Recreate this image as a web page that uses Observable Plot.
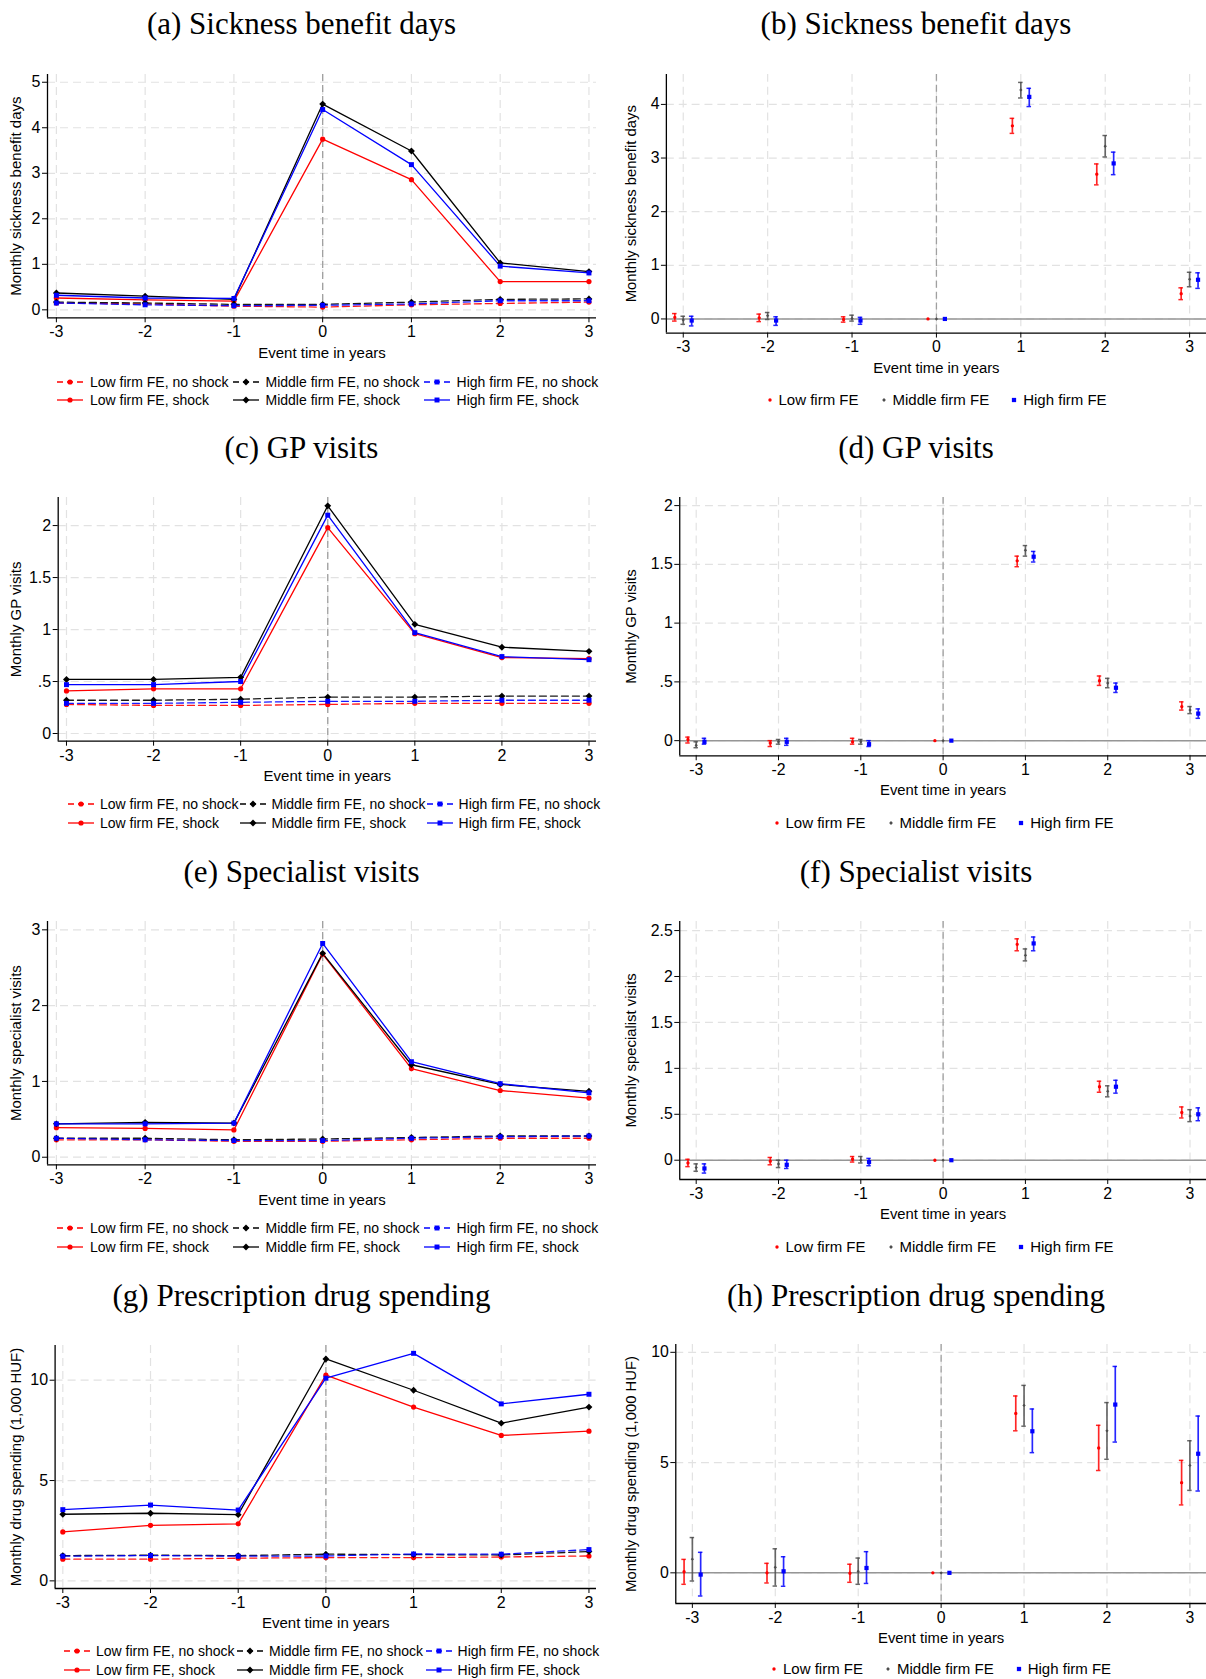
<!DOCTYPE html>
<html>
<head>
<meta charset="utf-8">
<script src="https://cdn.jsdelivr.net/npm/d3@7"></script>
<script src="https://cdn.jsdelivr.net/npm/@observablehq/plot@0.6"></script>
<style>
  html, body { margin: 0; padding: 0; background: #fff; overflow: hidden; }
  #root { position: relative; width: 1206px; height: 1679px; overflow: hidden; background: #fff; }
  .panel { position: absolute; }
  .title { position: absolute; width: 600px; text-align: center; font-family: "Liberation Serif", "Times New Roman", serif; font-size: 31px; line-height: 34px; color: #000; white-space: nowrap; }
  .legend3 { position: absolute; display: grid; grid-template-columns: auto auto auto; grid-auto-rows: 18.5px; font-family: "Liberation Sans", Arial, sans-serif; font-size: 14px; color: #000; white-space: nowrap; }
  .legend3 .item { display: flex; align-items: center; }
  .legend1 { position: absolute; display: flex; align-items: center; gap: 22px; font-family: "Liberation Sans", Arial, sans-serif; font-size: 15px; line-height: 18px; color: #000; white-space: nowrap; }
  .legend1 .item { display: flex; align-items: center; gap: 6px; }
  svg { overflow: visible; }
  #root svg [aria-label="x-axis tick label"], #root svg [aria-label="y-axis tick label"] { font-size: 16px !important; font-family: "Liberation Sans", Arial, sans-serif !important; }
  #root svg [aria-label="x-axis tick label"] text, #root svg [aria-label="y-axis tick label"] text { font-size: 16px !important; }
</style>
</head>
<body>
<div id="root"></div>
<script>
// ---------------- DATA ----------------
const years = [-3, -2, -1, 0, 1, 2, 3];
const groups = ["Low firm FE", "Middle firm FE", "High firm FE"];
const shockLabels = ["no shock", "shock"];

// (a) Sickness benefit days, levels (rows: Low, Middle, High)
const sickShock = [
  [0.26, 0.22, 0.19, 3.75, 2.86, 0.62, 0.62],
  [0.37, 0.30, 0.23, 4.52, 3.49, 1.03, 0.84],
  [0.32, 0.26, 0.25, 4.40, 3.19, 0.96, 0.81]
];
const sickNoShock = [
  [0.15, 0.13, 0.08, 0.06, 0.11, 0.14, 0.17],
  [0.17, 0.15, 0.12, 0.12, 0.17, 0.23, 0.24],
  [0.15, 0.11, 0.09, 0.10, 0.13, 0.20, 0.20]
];
// (b) Sickness benefit days, estimates with CI
const sickCoef = [
  [0.03, 0.02, -0.01, 0, 3.60, 2.70, 0.47],
  [-0.02, 0.06, 0.01, 0, 4.27, 3.22, 0.74],
  [-0.03, -0.03, -0.03, 0, 4.14, 2.90, 0.73]
];
const sickLo = [
  [-0.04, -0.05, -0.06, 0, 3.46, 2.50, 0.36],
  [-0.10, -0.01, -0.04, 0, 4.12, 3.02, 0.60],
  [-0.13, -0.12, -0.10, 0, 3.96, 2.69, 0.57]
];
const sickHi = [
  [0.10, 0.09, 0.04, 0, 3.74, 2.89, 0.58],
  [0.05, 0.12, 0.07, 0, 4.41, 3.42, 0.87],
  [0.05, 0.04, 0.03, 0, 4.30, 3.11, 0.86]
];

// (c) GP visits, levels
const gpShock = [
  [0.41, 0.43, 0.43, 1.98, 0.96, 0.73, 0.72],
  [0.52, 0.52, 0.54, 2.19, 1.05, 0.83, 0.79],
  [0.47, 0.47, 0.50, 2.10, 0.97, 0.74, 0.71]
];
const gpNoShock = [
  [0.28, 0.27, 0.27, 0.28, 0.29, 0.29, 0.29],
  [0.32, 0.32, 0.33, 0.35, 0.35, 0.36, 0.36],
  [0.29, 0.29, 0.30, 0.31, 0.31, 0.32, 0.32]
];
// (d) GP visits, estimates
const gpCoef = [
  [0.01, -0.02, -0.01, 0, 1.53, 0.51, 0.29],
  [-0.04, -0.01, -0.01, 0, 1.62, 0.49, 0.26],
  [-0.01, -0.01, -0.03, 0, 1.565, 0.45, 0.23]
];
const gpLo = [
  [-0.02, -0.05, -0.03, 0, 1.48, 0.47, 0.26],
  [-0.06, -0.03, -0.03, 0, 1.57, 0.45, 0.23],
  [-0.03, -0.04, -0.05, 0, 1.52, 0.41, 0.19]
];
const gpHi = [
  [0.03, 0.00, 0.02, 0, 1.57, 0.55, 0.33],
  [-0.01, 0.01, 0.01, 0, 1.66, 0.53, 0.29],
  [0.02, 0.02, 0.00, 0, 1.61, 0.49, 0.27]
];

// (e) Specialist visits, levels
const specShock = [
  [0.39, 0.38, 0.36, 2.68, 1.17, 0.88, 0.78],
  [0.44, 0.46, 0.45, 2.69, 1.22, 0.96, 0.87],
  [0.44, 0.44, 0.45, 2.82, 1.26, 0.97, 0.85]
];
const specNoShock = [
  [0.23, 0.23, 0.21, 0.21, 0.23, 0.25, 0.25],
  [0.25, 0.25, 0.23, 0.24, 0.26, 0.28, 0.28],
  [0.25, 0.23, 0.22, 0.22, 0.25, 0.27, 0.28]
];
// (f) Specialist visits, estimates
const specCoef = [
  [-0.03, -0.01, 0.01, 0, 2.35, 0.80, 0.52],
  [-0.08, -0.04, 0.00, 0, 2.23, 0.75, 0.48],
  [-0.09, -0.05, -0.02, 0, 2.36, 0.80, 0.50]
];
const specLo = [
  [-0.07, -0.05, -0.02, 0, 2.28, 0.74, 0.46],
  [-0.12, -0.08, -0.03, 0, 2.17, 0.69, 0.42],
  [-0.14, -0.09, -0.06, 0, 2.28, 0.73, 0.43]
];
const specHi = [
  [0.01, 0.03, 0.04, 0, 2.41, 0.86, 0.58],
  [-0.04, 0.00, 0.04, 0, 2.30, 0.81, 0.55],
  [-0.04, 0.00, 0.02, 0, 2.43, 0.87, 0.57]
];

// (g) Prescription drug spending, levels (1,000 HUF)
const drugShock = [
  [2.44, 2.77, 2.84, 10.25, 8.66, 7.25, 7.46],
  [3.32, 3.37, 3.30, 11.06, 9.50, 7.86, 8.66],
  [3.55, 3.78, 3.53, 10.10, 11.34, 8.82, 9.30]
];
const drugNoShock = [
  [1.08, 1.08, 1.13, 1.16, 1.16, 1.19, 1.24],
  [1.26, 1.28, 1.26, 1.33, 1.31, 1.29, 1.46],
  [1.23, 1.26, 1.23, 1.24, 1.34, 1.33, 1.56]
];
// (h) Prescription drug spending, estimates
const drugCoef = [
  [0.05, 0.00, -0.02, 0, 7.23, 5.66, 4.09],
  [0.62, 0.25, 0.07, 0, 7.59, 6.44, 4.87],
  [-0.08, 0.07, 0.22, 0, 6.42, 7.63, 5.40]
];
const drugLo = [
  [-0.52, -0.46, -0.43, 0, 6.44, 4.64, 3.08],
  [-0.37, -0.60, -0.52, 0, 6.65, 5.15, 3.74],
  [-1.05, -0.61, -0.48, 0, 5.45, 5.93, 3.71]
];
const drugHi = [
  [0.61, 0.43, 0.39, 0, 8.02, 6.69, 5.10],
  [1.60, 1.09, 0.67, 0, 8.50, 7.72, 5.99],
  [0.93, 0.73, 0.96, 0, 7.43, 9.36, 7.11]
];

// Tick values
const ticksSick = [0, 1, 2, 3, 4, 5];
const ticksSickCoef = [0, 1, 2, 3, 4];
const ticksGP = [0, 0.5, 1, 1.5, 2];
const ticksSpec = [0, 1, 2, 3];
const ticksSpecCoef = [0, 0.5, 1, 1.5, 2, 2.5];
const ticksDrug = [0, 5, 10];

// ---------------- STYLE / LAYOUT ----------------
const lineColors = ["#ff0000", "#000000", "#0000ff"];
const coefColors = ["#ff0000", "#4d4d4d", "#0000ff"];
const symbolNames = ["circle", "diamond2", "square"];
const d3Symbols = [d3.symbolCircle, d3.symbolDiamond2, d3.symbolSquare];
const lineDotR = [2.6, 3.1, 2.8];
const coefDotR = [1.7, 1.5, 2.4];
const groupOffsets = [-0.1, 0, 0.1];
const capHalf = 0.027;

const root = document.getElementById("root");

function fmtY(d) {
  if (d === 0) return "0";
  const s = String(d);
  return Math.abs(d) < 1 ? s.replace("0.", ".") : s;
}
function fmtX(d) { return String(d); }

const baseStyle = {
  fontFamily: "'Liberation Sans', Arial, sans-serif",
  fontSize: "15px",
  color: "#000",
  background: "transparent",
  overflow: "visible"
};

function gridMarks(p) {
  return [
    Plot.gridX(years, {stroke: "#e2e2e2", strokeOpacity: 1, strokeWidth: 1.2, strokeDasharray: "8,5"}),
    Plot.gridY(p.yTicks, {stroke: "#e2e2e2", strokeOpacity: 1, strokeWidth: 1.2, strokeDasharray: "8,5"})
  ];
}

function axesMarks(p) {
  return [
    Plot.ruleX([p.xDomain[0]], {stroke: "#000", strokeWidth: 1.3}),
    Plot.ruleY([p.yDomain[0]], {stroke: "#000", strokeWidth: 1.3}),
    Plot.axisX(years, {tickSize: 5, tickPadding: 3, tickFormat: fmtX, label: null, fontSize: 16}),
    Plot.axisY(p.yTicks, {tickSize: 5, tickPadding: 2, tickFormat: fmtY, label: null, fontSize: 16}),
    Plot.text(["Event time in years"], {frameAnchor: "bottom", dy: 35, text: d => d, lineAnchor: "middle", fontSize: 15}),
    Plot.text([p.yLabel], {frameAnchor: "left", dx: p.yTitleX - p.plotLeft, text: d => d, rotate: -90, lineAnchor: "middle", textAnchor: "middle", fontSize: 15})
  ];
}

function addTitle(p) {
  const t = document.createElement("div");
  t.className = "title";
  t.textContent = p.title;
  t.style.left = (p.titleX - 300) + "px";
  t.style.top = (p.titleY - 17) + "px";
  root.appendChild(t);
}

function levelPanel(p) {
  const rows = [];
  groups.forEach((g, gi) => years.forEach((t, ti) => {
    rows.push({t, v: p.noShock[gi][ti], g, s: shockLabels[0]});
    rows.push({t, v: p.shock[gi][ti], g, s: shockLabels[1]});
  }));
  const svgLeft = 0, width = 603, mt = 12, mb = 50;
  const height = Math.round(mt + (p.plotBottom - p.plotTop) + mb);
  const chart = Plot.plot({
    width, height,
    marginLeft: p.plotLeft - svgLeft,
    marginRight: width - p.plotRight,
    marginTop: mt,
    marginBottom: height - mt - (p.plotBottom - p.plotTop),
    style: baseStyle,
    x: {domain: p.xDomain},
    y: {domain: p.yDomain},
    color: {domain: groups, range: lineColors},
    symbol: {domain: groups, range: symbolNames},
    marks: [
      ...gridMarks(p),
      Plot.ruleX([0], {stroke: "#a0a0a0", strokeWidth: 1.3, strokeDasharray: "7,4"}),
      Plot.line(rows.filter(d => d.s === shockLabels[0]), {x: "t", y: "v", z: "g", stroke: "g", strokeWidth: 1.3, strokeDasharray: "7,4", strokeOpacity: 0.9}),
      Plot.line(rows.filter(d => d.s === shockLabels[1]), {x: "t", y: "v", z: "g", stroke: "g", strokeWidth: 1.3}),
      ...groups.map((g, gi) => Plot.dot(rows.filter(d => d.g === g), {x: "t", y: "v", fill: "g", symbol: "g", stroke: "none", r: lineDotR[gi]})),
      ...axesMarks(p)
    ]
  });
  const wrap = document.createElement("div");
  wrap.className = "panel";
  wrap.style.left = svgLeft + "px";
  wrap.style.top = (p.plotTop - mt) + "px";
  wrap.appendChild(chart);
  root.appendChild(wrap);
  addTitle(p);

  // legend (3 columns x 2 rows)
  const lg = document.createElement("div");
  lg.className = "legend3";
  lg.style.left = p.legendLeft + "px";
  lg.style.top = (p.legendY - 9.25) + "px";
  lg.style.columnGap = p.legendColGap + "px";
  shockLabels.forEach((s, si) => groups.forEach((g, gi) => {
    const item = document.createElement("div");
    item.className = "item";
    item.style.gap = p.legendSymGap + "px";
    const path = d3.symbol(d3Symbols[gi], Math.PI * lineDotR[gi] * lineDotR[gi])();
    const dash = si === 0 ? ' stroke-dasharray="6,4"' : '';
    item.innerHTML = `<svg width="26" height="12"><line x1="0" x2="26" y1="6" y2="6" stroke="${lineColors[gi]}" stroke-width="1.3"${dash}/><path d="${path}" transform="translate(13,6)" fill="${lineColors[gi]}"/></svg><span>${g}, ${s}</span>`;
    lg.appendChild(item);
  }));
  root.appendChild(lg);
}

function coefPanel(p) {
  const rows = [];
  groups.forEach((g, gi) => years.forEach((t, ti) => {
    rows.push({x: t + groupOffsets[gi], est: p.coef[gi][ti], lo: p.lo[gi][ti], hi: p.hi[gi][ti], g});
  }));
  const bars = rows.filter(d => d.lo !== d.hi);
  const svgLeft = 603, width = Math.round(p.plotRight - svgLeft), mt = 12, mb = 50;
  const height = Math.round(mt + (p.plotBottom - p.plotTop) + mb);
  const chart = Plot.plot({
    width, height,
    marginLeft: p.plotLeft - svgLeft,
    marginRight: 0,
    marginTop: mt,
    marginBottom: height - mt - (p.plotBottom - p.plotTop),
    style: baseStyle,
    x: {domain: p.xDomain},
    y: {domain: p.yDomain},
    color: {domain: groups, range: coefColors},
    symbol: {domain: groups, range: symbolNames},
    marks: [
      ...gridMarks(p),
      Plot.ruleY([0], {stroke: "#969696", strokeWidth: 1.5}),
      Plot.ruleX([0], {stroke: "#a0a0a0", strokeWidth: 1.3, strokeDasharray: "7,4"}),
      Plot.ruleX(bars, {x: "x", y1: "lo", y2: "hi", stroke: "g", strokeWidth: 1.7, strokeOpacity: 0.85}),
      Plot.ruleY(bars, {y: "lo", x1: d => d.x - capHalf, x2: d => d.x + capHalf, stroke: "g", strokeWidth: 1.5, strokeOpacity: 0.85}),
      Plot.ruleY(bars, {y: "hi", x1: d => d.x - capHalf, x2: d => d.x + capHalf, stroke: "g", strokeWidth: 1.5, strokeOpacity: 0.85}),
      ...groups.map((g, gi) => Plot.dot(rows.filter(d => d.g === g), {x: "x", y: "est", fill: "g", symbol: "g", stroke: "none", r: coefDotR[gi]})),
      ...axesMarks(p)
    ]
  });
  const wrap = document.createElement("div");
  wrap.className = "panel";
  wrap.style.left = svgLeft + "px";
  wrap.style.top = (p.plotTop - mt) + "px";
  wrap.appendChild(chart);
  root.appendChild(wrap);
  addTitle(p);

  const lg = document.createElement("div");
  lg.className = "legend1";
  lg.style.left = p.legendLeft + "px";
  lg.style.top = (p.legendY - 9) + "px";
  groups.forEach((g, gi) => {
    const item = document.createElement("div");
    item.className = "item";
    const rr = gi === 2 ? 2.4 : 1.7;
    const path = d3.symbol(d3Symbols[gi], Math.PI * rr * rr)();
    item.innerHTML = `<svg width="6" height="12"><path d="${path}" transform="translate(3,6)" fill="${coefColors[gi]}"/></svg><span>${g}</span>`;
    lg.appendChild(item);
  });
  root.appendChild(lg);
}

// ---------------- PANELS ----------------
const leftCommon = {plotRight: 596, titleX: 301.5, yTitleX: 16};
const rightCommon = {plotRight: 1212, titleX: 916, yTitleX: 631, xDomain: [-3.2, 3.2]};

levelPanel({...leftCommon, title: "(a) Sickness benefit days", yLabel: "Monthly sickness benefit days",
  shock: sickShock, noShock: sickNoShock, yTicks: ticksSick,
  plotLeft: 47, plotTop: 74, plotBottom: 317.3, xDomain: [-3.1, 3.085], yDomain: [-0.175, 5.17],
  titleY: 24, legendLeft: 57, legendY: 381.7, legendColGap: 4, legendSymGap: 7});
coefPanel({...rightCommon, title: "(b) Sickness benefit days", yLabel: "Monthly sickness benefit days",
  coef: sickCoef, lo: sickLo, hi: sickHi, yTicks: ticksSickCoef,
  plotLeft: 666.5, plotTop: 74, plotBottom: 335.3, yDomain: [-0.264, 4.56],
  titleY: 24, legendLeft: 766.5, legendY: 400});

levelPanel({...leftCommon, title: "(c) GP visits", yLabel: "Monthly GP visits",
  shock: gpShock, noShock: gpNoShock, yTicks: ticksGP,
  plotLeft: 57.7, plotTop: 497.3, plotBottom: 741, xDomain: [-3.095, 3.086], yDomain: [-0.074, 2.27],
  titleY: 448, legendLeft: 68, legendY: 804, legendColGap: 1, legendSymGap: 6});
coefPanel({...rightCommon, title: "(d) GP visits", yLabel: "Monthly GP visits",
  coef: gpCoef, lo: gpLo, hi: gpHi, yTicks: ticksGP,
  plotLeft: 680, plotTop: 497.3, plotBottom: 758.3, yDomain: [-0.129, 2.07],
  titleY: 448, legendLeft: 773.5, legendY: 823});

levelPanel({...leftCommon, title: "(e) Specialist visits", yLabel: "Monthly specialist visits",
  shock: specShock, noShock: specNoShock, yTicks: ticksSpec,
  plotLeft: 47, plotTop: 921, plotBottom: 1164.3, xDomain: [-3.1, 3.085], yDomain: [-0.1, 3.11],
  titleY: 872, legendLeft: 57, legendY: 1228, legendColGap: 4, legendSymGap: 7});
coefPanel({...rightCommon, title: "(f) Specialist visits", yLabel: "Monthly specialist visits",
  coef: specCoef, lo: specLo, hi: specHi, yTicks: ticksSpecCoef,
  plotLeft: 680, plotTop: 921, plotBottom: 1181.7, yDomain: [-0.21, 2.6],
  titleY: 872, legendLeft: 773.5, legendY: 1246.7});

levelPanel({...leftCommon, title: "(g) Prescription drug spending", yLabel: "Monthly drug spending (1,000 HUF)",
  shock: drugShock, noShock: drugNoShock, yTicks: ticksDrug,
  plotLeft: 54.6, plotTop: 1345, plotBottom: 1588, xDomain: [-3.088, 3.086], yDomain: [-0.38, 11.73],
  titleY: 1296, legendLeft: 64, legendY: 1651, legendColGap: 2.5, legendSymGap: 6});
coefPanel({...rightCommon, title: "(h) Prescription drug spending", yLabel: "Monthly drug spending (1,000 HUF)",
  coef: drugCoef, lo: drugLo, hi: drugHi, yTicks: ticksDrug,
  plotLeft: 676, plotTop: 1344.3, plotBottom: 1606, yDomain: [-1.39, 10.36],
  titleY: 1296, legendLeft: 771, legendY: 1669});
</script>
</body>
</html>
